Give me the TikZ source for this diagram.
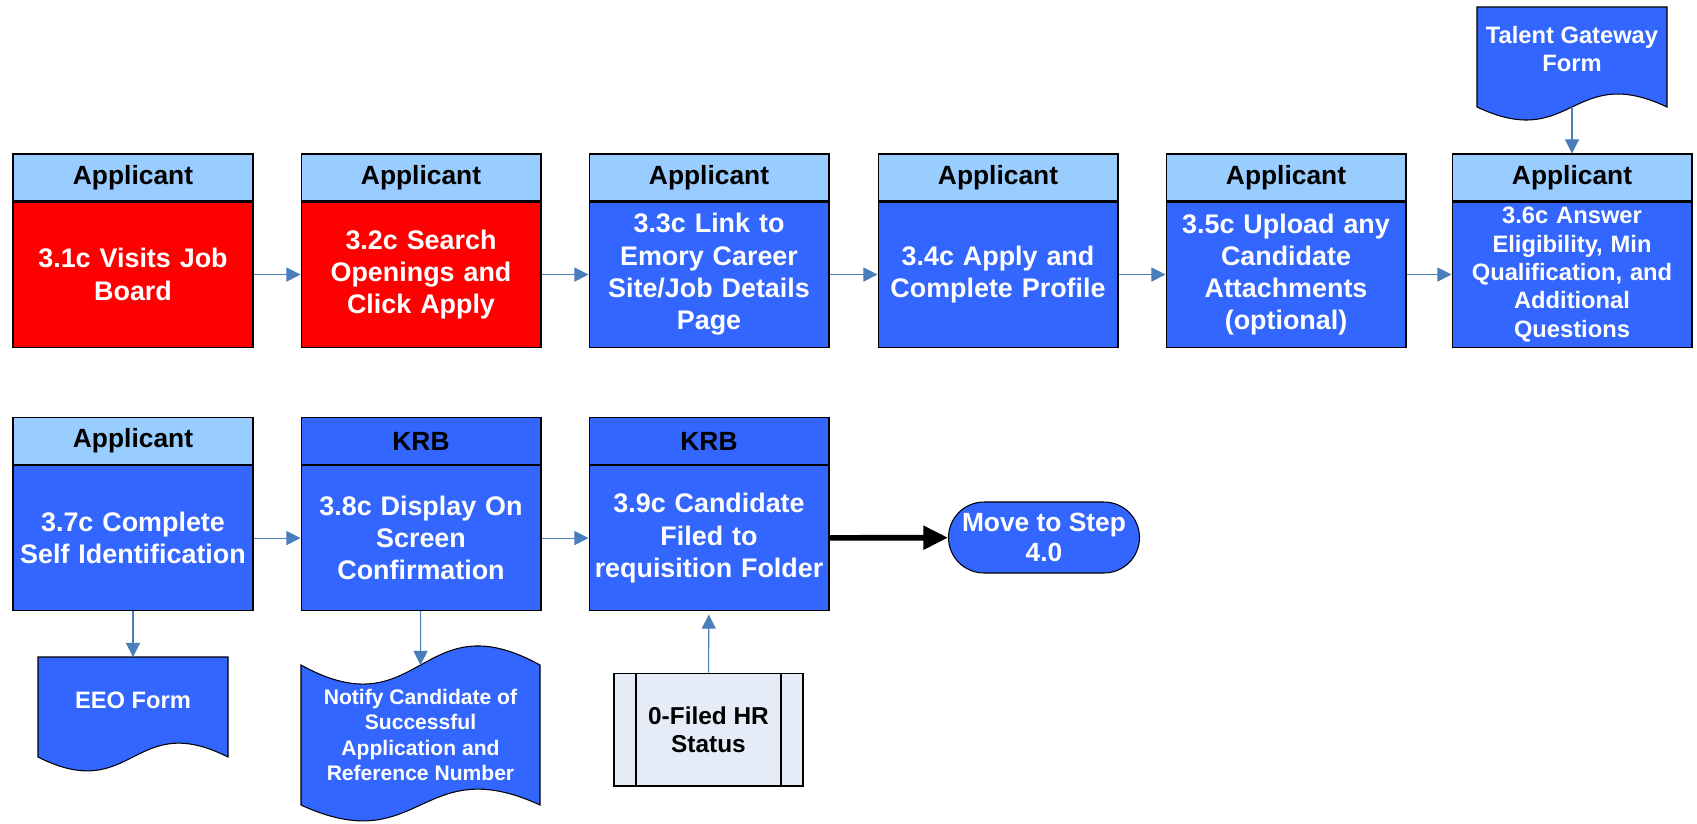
\documentclass[tikz,border=0pt]{standalone}
\usepackage{fontspec}
\setmainfont{Liberation Sans}
\usetikzlibrary{arrows.meta}
\usetikzlibrary{positioning}
\definecolor{procblue}{HTML}{3366FF}
\definecolor{hdrblue}{HTML}{99CCFF}
\definecolor{procred}{HTML}{FF0000}
\definecolor{flowblue}{HTML}{4A7EBB}
\definecolor{statgray}{HTML}{E6ECF7}
\tikzset{
  hdr/.style = {draw, fill=hdrblue, line width=0.6pt, minimum width=4.8cm, minimum height=0.94cm, inner sep=0,
    font=\fontsize{15}{18}\selectfont\bfseries},
  proc/.style = {draw, fill=procblue, text=white, line width=0.6pt, minimum width=4.8cm, minimum height=2.9cm,
    text width=4.7cm, inner sep=0, align=center, font=\fontsize{15.3}{18.4}\selectfont\bfseries},
  term/.style = {draw, fill=procblue, text=white, line width=0.6pt, minimum width=3.82cm, minimum height=1.42cm,
    rounded corners=0.71cm, align=center, inner sep=0, font=\fontsize{15}{17}\selectfont\bfseries},
  stat/.style = {draw, fill=statgray, line width=0.6pt, minimum width=3.78cm, minimum height=2.26cm, align=center,
    inner sep=0, font=\fontsize{13.9}{16}\selectfont\bfseries,
    path picture={
      \draw ([xshift=0.44cm]path picture bounding box.north west) -- ([xshift=0.44cm]path picture bounding box.south west);
      \draw ([xshift=-0.44cm]path picture bounding box.north east) -- ([xshift=-0.44cm]path picture bounding box.south east);
    }},
  docshape/.style = {draw, fill=procblue, line width=0.6pt},
  doctext/.style = {text=white, align=center, inner sep=0, font=\fontsize{13.5}{16}\selectfont\bfseries},
  flow/.style = {color=flowblue, line width=0.6pt, -{Triangle[length=8pt, width=8pt]}},
  bigflow/.style = {color=black, line width=3.2pt, -{Triangle[length=14pt, width=13pt]}}
}

\begin{document}
\begin{tikzpicture}[x=0.02cm, y=-0.02cm]
  \useasboundingbox (0,0) rectangle (1697,823);

  % headers
  \foreach \i/\x in {1/133,2/421,3/709,4/998,5/1286,6/1572} {
    \node [hdr] (h\i) at (\x, 177.5) {Applicant};
  }
  \node [hdr] (h7) at (133, 441) {Applicant};
  \node [hdr, fill=procblue] (h8) at (421, 441) {KRB};
  \node [hdr, fill=procblue] (h9) at (709, 441) {KRB};

  % steps
  \node [proc, fill=procred, below=0pt of h1] (b1) {3.1c Visits Job\\Board};
  \node [proc, fill=procred, below=0pt of h2] (b2) {3.2c Search\\Openings and\\Click Apply};
  \node [proc, below=0pt of h3] (b3) {3.3c Link to\\Emory Career\\Site/Job Details\\Page};
  \node [proc, below=0pt of h4] (b4) {3.4c Apply and\\Complete Profile};
  \node [proc, below=0pt of h5] (b5) {3.5c Upload any\\Candidate\\Attachments\\(optional)};
  \node [proc, below=0pt of h6, font=\fontsize{13.5}{16.2}\selectfont\bfseries] (b6)
    {3.6c Answer\\Eligibility, Min\\Qualification, and\\Additional\\Questions};
  \node [proc, below=0pt of h7] (b7) {3.7c Complete\\Self Identification};
  \node [proc, below=0pt of h8] (b8) {3.8c Display On\\Screen\\Confirmation};
  \node [proc, below=0pt of h9] (b9) {3.9c Candidate\\Filed to\\requisition Folder};

  \node [term] (step4) at (1044, 537.5) {Move to Step\\4.0};
  \node [stat] (hrs) at (708.5, 729.5) {0-Filed HR\\Status};

  % documents
  \draw [docshape] (1477,107) -- (1477,7) -- (1667,7) -- (1667,107)
    .. controls (1572,62) and (1572,152) .. (1477,107) -- cycle;
  \node [doctext] (tg) at (1572, 49) {Talent Gateway\\Form};
  \coordinate (tgbase) at (1572, 107);

  \draw [docshape] (38,757) -- (38,657) -- (228,657) -- (228,757)
    .. controls (133,709) and (133,805) .. (38,757) -- cycle;
  \node [doctext] (eeo) at (133, 700) {EEO Form};
  \coordinate (eeotop) at (133, 657);

  \draw [docshape] (301,665) .. controls (420.5,731) and (420.5,599) .. (540,665) -- (540,805)
    .. controls (420.5,750) and (420.5,860) .. (301,805) -- cycle;
  \node [doctext, font=\fontsize{12}{14.5}\selectfont\bfseries] (note) at (420.5, 735)
    {Notify Candidate of\\Successful\\Application and\\Reference Number};
  \coordinate (notetop) at (420.5, 665);

  % connectors
  \foreach \a/\b in {1/2,2/3,3/4,4/5,5/6,7/8,8/9} {
    \draw [flow] (b\a) -- (b\b);
  }
  \draw [flow] (tgbase) -- (h6);
  \draw [flow] (b7) -- (eeotop);
  \draw [flow] (b8) -- (notetop);
  \draw [flow, shorten >=2pt] (hrs) -- (b9);
  \draw [bigflow] (b9) -- (step4);
\end{tikzpicture}
\end{document}
